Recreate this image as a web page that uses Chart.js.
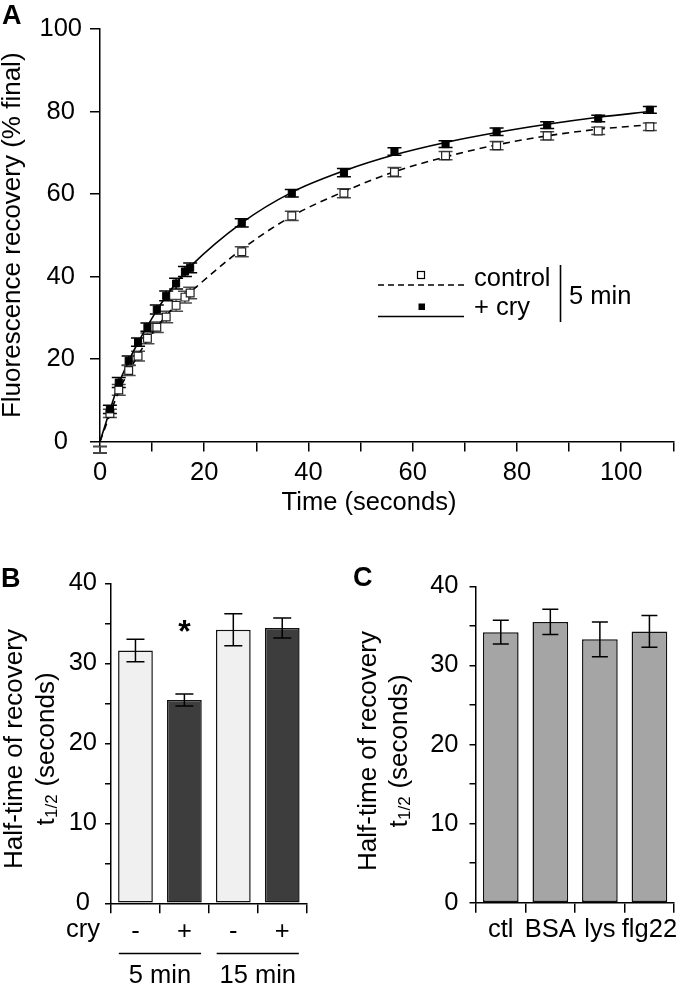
<!DOCTYPE html>
<html>
<head>
<meta charset="utf-8">
<script src="https://cdn.jsdelivr.net/npm/chart.js@4/dist/chart.umd.min.js"></script>
<style>
html,body{margin:0;padding:0;background:#fff;width:680px;height:984px;overflow:hidden;}
body{position:relative;}
canvas{position:absolute;display:block;}
</style>
</head>
<body>
<canvas id="cA" width="680" height="530" style="left:0;top:0;width:680px;height:530px"></canvas>
<canvas id="cB" width="340" height="424" style="left:0;top:560px;width:340px;height:424px"></canvas>
<canvas id="cC" width="340" height="424" style="left:340px;top:560px;width:340px;height:424px"></canvas>
<script>
// ---------------- Panel A data ----------------
const timeSec     = [0, 1.9, 3.6, 5.5, 7.3, 9.1, 10.9, 12.7, 14.6, 16.3, 17.3, 27.2, 36.8, 46.8, 56.5, 66.3, 76.1, 85.8, 95.6, 105.5];
const controlMean = [-2, 6.8, 12.5, 17.2, 20.7, 25.0, 27.7, 30.2, 33.0, 35.0, 36.0, 46.0, 54.7, 60.2, 65.3, 69.3, 71.7, 74.1, 75.3, 76.3];
const controlErr  = [0.8, 1.0, 1.3, 1.2, 1.2, 1.3, 1.3, 1.4, 1.4, 1.4, 1.4, 1.2, 1.1, 1.1, 1.1, 1.0, 1.0, 1.0, 0.9, 0.9];
const cryMean     = [-2, 7.8, 14.3, 19.6, 24.1, 27.7, 32.0, 35.3, 38.3, 41.2, 42.1, 53.0, 60.2, 65.2, 70.3, 72.1, 75.1, 76.7, 78.3, 80.4];
const cryErr      = [0.8, 1.0, 1.2, 1.1, 1.0, 1.0, 1.1, 1.2, 1.3, 1.2, 1.2, 1.0, 0.9, 1.0, 0.9, 0.8, 0.9, 0.8, 0.8, 0.8];
const controlFit  = [0, 6.5, 12.2, 16.9, 20.9, 24.6, 27.7, 30.5, 33.1, 35.1, 36.2, 46.6, 54.6, 60.6, 65.4, 69.0, 71.9, 74.1, 75.7, 76.8];
const cryFit      = [0, 7.6, 14.0, 19.5, 24.0, 28.0, 31.8, 35.2, 38.4, 41.0, 42.4, 53.0, 60.4, 65.6, 69.5, 72.5, 74.9, 76.9, 78.6, 80.0];
const xTickLabelsA = [0, 20, 40, 60, 80, 100];
const yTickLabelsA = [0, 20, 40, 60, 80, 100];

// ---------------- Panel B data ----------------
const bCryLabels = ['-', '+', '-', '+'];
const bGroups    = ['5 min', '15 min'];
const bMean      = [31.6, 25.4, 34.2, 34.4];
const bErr       = [1.4, 0.75, 2.0, 1.25];
const bColors    = ['#f0f0f0', '#3d3d3d', '#f0f0f0', '#3d3d3d'];

// ---------------- Panel C data ----------------
const cLabels = ['ctl', 'BSA', 'lys', 'flg22'];
const cMean   = [34.2, 35.5, 33.3, 34.3];
const cErr    = [1.5, 1.6, 2.2, 2.0];

const FONT = '"Liberation Sans", Arial, Helvetica, sans-serif';
Chart.defaults.font.family = FONT;
Chart.defaults.color = '#000';
Chart.defaults.animation = false;
Chart.defaults.devicePixelRatio = 1;

function pts(xs, ys) { return xs.map((x, i) => ({x: x, y: ys[i]})); }

// generic error-bar plugin (uses the chart's own scales)
function drawErrors(chart, phase) {
  const ctx = chart.ctx;
  chart.data.datasets.forEach((ds, i) => {
    if (!ds.errors || (ds.errPhase || 'after') !== phase) return;
    const meta = chart.getDatasetMeta(i);
    const ys = chart.scales[meta.yAxisID];
    ctx.save();
    ctx.strokeStyle = ds.errColor || '#000';
    ctx.lineWidth = ds.errWidth || 1.5;
    meta.data.forEach((el, j) => {
      const raw = ds.data[j];
      const v = (typeof raw === 'object') ? raw.y : raw;
      const e = ds.errors[j];
      const t = ys.getPixelForValue(v + e), b = ys.getPixelForValue(v - e);
      const x = el.x, h = ds.capHalf || 7;
      ctx.beginPath();
      ctx.moveTo(x, t); ctx.lineTo(x, b);
      ctx.moveTo(x - h, t); ctx.lineTo(x + h, t);
      ctx.moveTo(x - h, b); ctx.lineTo(x + h, b);
      ctx.stroke();
    });
    ctx.restore();
  });
}
const errorBars = {
  id: 'errorBars',
  beforeDatasetsDraw(chart) { drawErrors(chart, 'before'); },
  afterDatasetsDraw(chart) { drawErrors(chart, 'after'); }
};

function axisCommon(tickLen) {
  return {
    grid: {display: true, drawOnChartArea: false, drawTicks: true, tickLength: tickLen, color: '#000', lineWidth: 1.5},
    border: {display: true, color: '#000', width: 1.5}
  };
}

// ---------------- Panel A ----------------
const annotA = {
  id: 'annotA',
  afterDraw(chart) {
    const ctx = chart.ctx;
    ctx.save();
    ctx.fillStyle = '#000';
    ctx.strokeStyle = '#000';
    // panel letter
    ctx.font = 'bold 27px ' + FONT;
    ctx.textBaseline = 'alphabetic';
    ctx.textAlign = 'left';
    ctx.fillText('A', 2, 23.5);
    // x title
    ctx.font = '25.5px ' + FONT;
    ctx.textAlign = 'center';
    ctx.fillText('Time (seconds)', 369, 510);
    // legend
    ctx.lineWidth = 1.5;
    ctx.setLineDash([6, 4]);
    ctx.beginPath(); ctx.moveTo(378, 285); ctx.lineTo(464, 285); ctx.stroke();
    ctx.setLineDash([]);
    ctx.beginPath(); ctx.moveTo(378, 316.5); ctx.lineTo(464, 316.5); ctx.stroke();
    ctx.fillStyle = '#fff';
    ctx.lineWidth = 1.2;
    ctx.fillRect(417.5, 271.5, 7, 7);
    ctx.strokeRect(417.5, 271.5, 7, 7);
    ctx.fillStyle = '#000';
    ctx.fillRect(418.5, 303.5, 6.5, 6.5);
    ctx.font = '25.5px ' + FONT;
    ctx.textAlign = 'left';
    ctx.fillText('control', 474, 286);
    ctx.fillText('+ cry', 474, 315);
    ctx.fillText('5 min', 569, 303.5);
    ctx.lineWidth = 1.6;
    ctx.beginPath(); ctx.moveTo(560.5, 265); ctx.lineTo(560.5, 322); ctx.stroke();
    ctx.restore();
  }
};

new Chart(document.getElementById('cA'), {
  type: 'scatter',
  data: {
    datasets: [
      {
        label: '+ cry', data: pts(timeSec, cryMean), errors: cryErr, errPhase: 'before', errColor: '#000', capHalf: 7,
        pointStyle: 'rect', pointRadius: 5, backgroundColor: '#000', borderColor: '#000', borderWidth: 1,
        showLine: false, clip: false
      },
      {
        label: 'control', data: pts(timeSec, controlMean), errors: controlErr, errPhase: 'before', errColor: '#4a4a4a', capHalf: 7,
        pointStyle: 'rect', pointRadius: 5.5, backgroundColor: '#fff', borderColor: '#222', borderWidth: 1.2,
        showLine: false, clip: false
      },
      {
        label: '+ cry fit', data: pts(timeSec, cryFit), showLine: true, pointRadius: 0, borderColor: '#000',
        borderWidth: 1.6, cubicInterpolationMode: 'monotone', fill: false
      },
      {
        label: 'control fit', data: pts(timeSec, controlFit), showLine: true, pointRadius: 0, borderColor: '#000',
        borderWidth: 1.6, borderDash: [7, 5], cubicInterpolationMode: 'monotone', fill: false
      }
    ]
  },
  options: {
    responsive: false,
    animation: false,
    layout: {padding: {left: 0, right: 2.5, top: 29, bottom: 0}},
    plugins: {legend: {display: false}, tooltip: {enabled: false}},
    scales: {
      x: Object.assign(axisCommon(10), {
        type: 'linear', min: 0, max: 110,
        ticks: {
          stepSize: 10, autoSkip: false, maxRotation: 0, padding: 5.7, font: {size: 25.5},
          callback: v => xTickLabelsA.includes(v) ? String(v) : ''
        },
        afterFit: s => { s.height = 88.5; }
      }),
      y: Object.assign(axisCommon(10), {
        type: 'linear', min: 0, max: 100,
        ticks: {
          stepSize: 20, autoSkip: false, padding: 8, crossAlign: 'center', font: {size: 25.5},
          callback: v => yTickLabelsA.includes(v) ? String(v) : ''
        },
        title: {display: true, text: 'Fluorescence recovery (% final)', font: {size: 26, lineHeight: 1}, padding: {top: 0, bottom: 0}},
        afterFit: s => { s.width = 100; }
      })
    }
  },
  plugins: [errorBars, annotA]
});

// ---------------- shared y-title drawer for B and C ----------------
function drawHalfTitle(ctx, x1, x2, cy) {
  ctx.save();
  ctx.fillStyle = '#000';
  // line 1
  ctx.save();
  ctx.translate(x1, cy);
  ctx.rotate(-Math.PI / 2);
  ctx.font = '26px ' + FONT;
  ctx.textAlign = 'center';
  ctx.textBaseline = 'alphabetic';
  ctx.fillText('Half-time of recovery', 0, 0);
  ctx.restore();
  // line 2: t1/2 (seconds)
  ctx.save();
  ctx.translate(x2, cy);
  ctx.rotate(-Math.PI / 2);
  ctx.textBaseline = 'alphabetic';
  ctx.textAlign = 'left';
  const big = '26px ' + FONT, small = '17px ' + FONT;
  ctx.font = big; const wT = ctx.measureText('t').width;
  ctx.font = small; const wS = ctx.measureText('1/2').width;
  ctx.font = big; const wR = ctx.measureText(' (seconds)').width;
  let x = -(wT + wS + 1 + wR) / 2;
  ctx.font = big; ctx.fillText('t', x, 0); x += wT + 0.5;
  ctx.font = small; ctx.fillText('1/2', x, 2.5); x += wS + 0.5;
  ctx.font = big; ctx.fillText(' (seconds)', x, 0);
  ctx.restore();
  ctx.restore();
}

// ---------------- Panel B ----------------
const annotB = {
  id: 'annotB',
  afterDraw(chart) {
    const ctx = chart.ctx;
    const xs = chart.scales.x;
    ctx.save();
    ctx.fillStyle = '#000';
    ctx.strokeStyle = '#000';
    ctx.font = 'bold 27px ' + FONT;
    ctx.textAlign = 'left';
    ctx.textBaseline = 'alphabetic';
    ctx.fillText('B', 1, 26.5);
    drawHalfTitle(ctx, 21.5, 54, 189);
    // asterisk above the "+" 5 min bar
    ctx.font = 'bold 32px ' + FONT;
    ctx.textAlign = 'center';
    ctx.fillText('*', xs.getPixelForValue(1), 82);
    // "cry" row label
    ctx.font = '25.5px ' + FONT;
    ctx.textAlign = 'left';
    ctx.textBaseline = 'middle';
    ctx.fillText('cry', 66, 370);
    // group lines and labels
    ctx.lineWidth = 1.5;
    const half = xs.width / xs.ticks.length / 2;
    const groups = [[0, 1], [2, 3]];
    groups.forEach((g, k) => {
      const l = xs.getPixelForValue(g[0]) - half * 0.68;
      const r = xs.getPixelForValue(g[1]) + half * 0.68;
      ctx.beginPath(); ctx.moveTo(l, 393.5); ctx.lineTo(r, 393.5); ctx.stroke();
      ctx.textAlign = 'center';
      ctx.textBaseline = 'alphabetic';
      ctx.fillText(bGroups[k], (l + r) / 2, 423);
    });
    ctx.restore();
  }
};

new Chart(document.getElementById('cB'), {
  type: 'bar',
  data: {
    labels: bCryLabels,
    datasets: [{
      data: bMean, errors: bErr, errPhase: 'after', errColor: '#000', capHalf: 9,
      backgroundColor: bColors, borderColor: '#111', borderWidth: 1.5, borderSkipped: false,
      barPercentage: 0.71, categoryPercentage: 1.0
    }]
  },
  options: {
    responsive: false,
    animation: false,
    layout: {padding: {left: 0, right: 33.3, top: 15.7, bottom: 0}},
    plugins: {legend: {display: false}, tooltip: {enabled: false}},
    scales: {
      x: Object.assign(axisCommon(10), {
        grid: {display: true, drawOnChartArea: false, drawTicks: true, tickLength: 10, color: '#000', lineWidth: 1.5, offset: true},
        ticks: {padding: 3.4, font: {size: 25.5}, maxRotation: 0, autoSkip: false},
        afterFit: s => { s.height = 424 - 343.3; }
      }),
      y: Object.assign(axisCommon(6), {
        min: 0, max: 40,
        ticks: {stepSize: 5, padding: 8, crossAlign: 'center', font: {size: 25.5}, autoSkip: false,
          callback: v => (v % 10 === 0) ? String(v) : ''},
        afterFit: s => { s.width = 111; }
      })
    }
  },
  plugins: [errorBars, annotB]
});

// ---------------- Panel C ----------------
const annotC = {
  id: 'annotC',
  afterDraw(chart) {
    const ctx = chart.ctx;
    ctx.save();
    ctx.fillStyle = '#000';
    ctx.font = 'bold 27px ' + FONT;
    ctx.textAlign = 'left';
    ctx.textBaseline = 'alphabetic';
    ctx.fillText('C', 13, 25.5);
    drawHalfTitle(ctx, 35.5, 67, 191);
    ctx.restore();
  }
};

new Chart(document.getElementById('cC'), {
  type: 'bar',
  data: {
    labels: cLabels,
    datasets: [{
      data: cMean, errors: cErr, errPhase: 'after', errColor: '#000', capHalf: 8,
      backgroundColor: '#a5a5a5', borderColor: '#111', borderWidth: 1.5, borderSkipped: false,
      barPercentage: 0.72, categoryPercentage: 1.0
    }]
  },
  options: {
    responsive: false,
    animation: false,
    layout: {padding: {left: 0, right: 5, top: 14, bottom: 0}},
    plugins: {legend: {display: false}, tooltip: {enabled: false}},
    scales: {
      x: Object.assign(axisCommon(10), {
        grid: {display: true, drawOnChartArea: false, drawTicks: true, tickLength: 10, color: '#000', lineWidth: 1.5, offset: true},
        ticks: {padding: 2.3, font: {size: 25.5}, maxRotation: 0, autoSkip: false},
        afterFit: s => { s.height = 424 - 342.7; }
      }),
      y: Object.assign(axisCommon(6.5), {
        min: 0, max: 40,
        ticks: {stepSize: 5, padding: 11, font: {size: 25.5}, autoSkip: false,
          callback: v => (v % 10 === 0) ? String(v) : ''},
        afterFit: s => { s.width = 136; }
      })
    }
  },
  plugins: [errorBars, annotC]
});
</script>
</body>
</html>
